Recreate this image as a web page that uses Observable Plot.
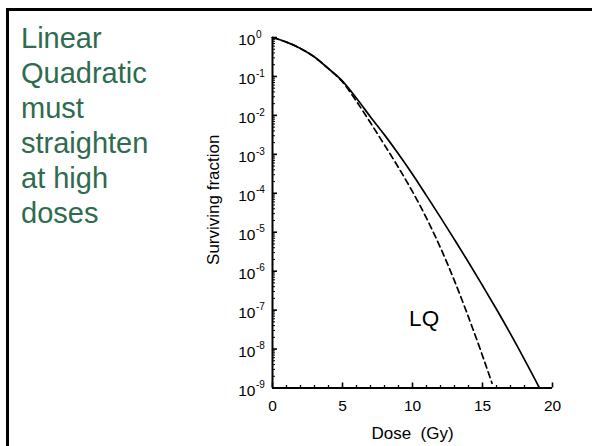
<!DOCTYPE html>
<html><head><meta charset="utf-8">
<script src="https://cdn.jsdelivr.net/npm/d3@7"></script>
<script src="https://cdn.jsdelivr.net/npm/@observablehq/plot@0.6"></script>
<style>
html,body{margin:0;padding:0;width:592px;height:446px;overflow:hidden;background:#fff;}
#frame{position:absolute;left:6px;top:8px;width:700px;height:600px;border-top:3px solid #000;border-left:3px solid #000;}
#title{position:absolute;left:21px;top:21px;font-family:"Liberation Sans",Arial,sans-serif;font-size:29px;line-height:35px;color:#2e6b4f;}
#chart{position:absolute;left:0;top:0;}
</style></head><body>
<div id="frame"></div>
<div id="title">Linear<br>Quadratic<br>must<br>straighten<br>at high<br>doses</div>
<div id="chart"></div>
<script>
// Solid curve (straightening model)
const doseSolid = [0, 1, 2, 3, 4, 5, 6, 7, 8, 9, 10, 11, 12, 13, 14, 15, 16, 17, 18, 19, 19.07];
const sfSolid = [1, 0.759, 0.525, 0.316, 0.158, 0.0759, 0.0275, 9.12e-3, 3.16e-3, 1.02e-3, 3.09e-4, 8.71e-5, 2.40e-5, 6.46e-6, 1.70e-6, 4.27e-7, 1.05e-7, 2.45e-8, 5.37e-9, 1.12e-9, 1.0e-9];
// Dashed curve (LQ)
const doseLQ = [0, 1, 2, 3, 4, 5, 6, 7, 8, 9, 10, 11, 12, 13, 14, 15, 15.68];
const sfLQ = [1, 0.759, 0.525, 0.316, 0.158, 0.0724, 0.0229, 6.46e-3, 1.74e-3, 4.57e-4, 1.10e-4, 2.29e-5, 3.98e-6, 5.62e-7, 6.61e-8, 6.76e-9, 1.32e-9];
// Axis ticks
const yTickValues = [1, 1e-1, 1e-2, 1e-3, 1e-4, 1e-5, 1e-6, 1e-7, 1e-8, 1e-9];
const yTickExps = ["0", "-1", "-2", "-3", "-4", "-5", "-6", "-7", "-8", "-9"];
const xTickValues = [0, 5, 10, 15, 20];
const xMinorValues = [1, 2, 3, 4, 6, 7, 8, 9, 11, 12, 13, 14, 16, 17, 18, 19];
const xLabel = "Dose\u00a0\u00a0(Gy)";
const yLabel = "Surviving fraction";
const lqLabel = [{dose: 10.83, sf: 5.9e-8, text: "LQ"}];

const yMinorValues = [];
for (let k = -9; k < 0; k++) for (let m = 2; m <= 9; m++) yMinorValues.push(m * Math.pow(10, k));

const solid = doseSolid.map((d, i) => ({dose: d, sf: sfSolid[i]}));
const lq = doseLQ.map((d, i) => ({dose: d, sf: sfLQ[i]}));
const yTicks = yTickValues.map((v, i) => ({v, e: yTickExps[i]}));
const font = '"Liberation Sans", Arial, sans-serif';

const chart = Plot.plot({
  width: 592, height: 446,
  marginLeft: 272, marginRight: 40, marginTop: 37, marginBottom: 58.5,
  x: {domain: [0, 20]},
  y: {type: "log", domain: [1e-9, 1]},
  style: {fontFamily: font, fontSize: "15.5px", background: "transparent", color: "#000", overflow: "visible"},
  marks: [
    Plot.axisY(yMinorValues, {tickSize: -3, tickFormat: () => "", label: null}),
    Plot.axisY(yTickValues, {tickSize: -5, tickFormat: () => "", label: null, strokeWidth: 1.6}),
    Plot.axisX(xMinorValues, {tickSize: -2.5, tickFormat: () => "", label: null, strokeWidth: 1.3}),
    Plot.axisX(xTickValues, {tickSize: -5, tickFormat: () => "", label: null, strokeWidth: 1.6}),
    Plot.ruleX([0], {strokeWidth: 2}),
    Plot.ruleY([1e-9], {strokeWidth: 2}),
    Plot.line(solid, {x: "dose", y: "sf", curve: "monotone-x", strokeWidth: 1.7}),
    Plot.line(lq, {x: "dose", y: "sf", curve: "monotone-x", strokeWidth: 1.7, strokeDasharray: "6,4"}),
    Plot.text(yTicks, {y: "v", text: () => "10", frameAnchor: "left", textAnchor: "end", lineAnchor: "middle", dx: -17, dy: 2.6, fontSize: 15.5}),
    Plot.text(yTicks, {y: "v", text: "e", frameAnchor: "left", textAnchor: "start", lineAnchor: "middle", dx: -16.5, dy: -3, fontSize: 10}),
    Plot.text(xTickValues, {x: d => d, text: d => String(d), frameAnchor: "bottom", textAnchor: "middle", lineAnchor: "middle", dy: 18.2, fontSize: 15.5}),
    Plot.text([xLabel], {text: d => d, frameAnchor: "bottom", textAnchor: "middle", lineAnchor: "middle", dy: 45.5, fontSize: 17}),
    Plot.text([yLabel], {text: d => d, frameAnchor: "left", textAnchor: "middle", lineAnchor: "middle", rotate: -90, dx: -59, dy: -13, fontSize: 17}),
    Plot.text(lqLabel, {x: "dose", y: "sf", text: "text", fontSize: 22.5})
  ]
});
document.getElementById("chart").appendChild(chart);
</script>
</body></html>
